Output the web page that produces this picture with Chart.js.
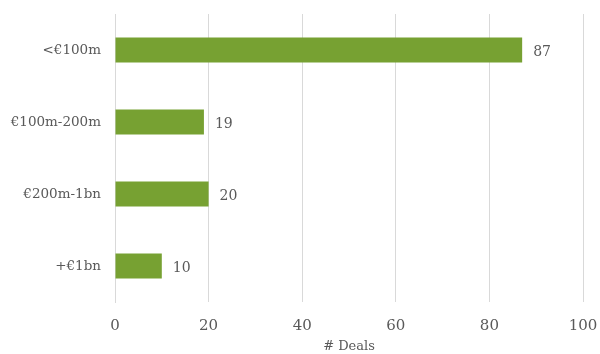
<!DOCTYPE html>
<html>
<head>
<meta charset="utf-8">
<script src="https://cdn.jsdelivr.net/npm/chart.js@4"></script>
<style>
  html, body { margin: 0; padding: 0; background: #fff; }
  #wrap { width: 600px; height: 354px; }
</style>
</head>
<body>
<div id="wrap"><canvas id="chart"></canvas></div>
<script>
// deal size buckets and counts
const categories = ['<€100m', '€100m-200m', '€200m-1bn', '+€1bn']
const deals = [87, 19, 20, 10]
const xTicks = [0, 20, 40, 60, 80, 100]

const FONT = '"DejaVu Serif", "Liberation Serif", serif'
const TEXT = '#595959'

// draws the count to the right of each bar
const barValues = {
  id: 'barValues',
  afterDatasetsDraw(chart) {
    const ctx = chart.ctx
    const meta = chart.getDatasetMeta(0)
    ctx.save()
    ctx.font = `14px ${FONT}`
    ctx.fillStyle = TEXT
    ctx.textAlign = 'left'
    ctx.textBaseline = 'middle'
    meta.data.forEach((bar, i) => {
      ctx.fillText(String(deals[i]), bar.x + 11, bar.y + 2)
    })
    ctx.restore()
  }
}

new Chart(document.getElementById('chart'), {
  type: 'bar',
  data: {
    labels: categories,
    datasets: [{
      data: deals,
      backgroundColor: '#77A132',
      borderWidth: 0,
      barPercentage: 0.348,
      categoryPercentage: 1
    }]
  },
  options: {
    indexAxis: 'y',
    responsive: true,
    maintainAspectRatio: false,
    animation: false,
    layout: { padding: { top: 14, right: 17, left: 0, bottom: 0 } },
    plugins: {
      legend: { display: false },
      tooltip: { enabled: false }
    },
    scales: {
      x: {
        min: 0,
        max: 100,
        afterBuildTicks: axis => { axis.ticks = xTicks.map(v => ({ value: v })) },
        grid: { color: '#d9d9d9', lineWidth: 1, drawTicks: false },
        border: { display: false },
        ticks: { color: TEXT, font: { family: FONT, size: 15 }, padding: 15 },
        title: {
          display: true,
          text: '# Deals',
          color: TEXT,
          font: { family: FONT, size: 13 },
          padding: { top: 2, bottom: 0 }
        },
        afterFit: axis => {
          axis.height = 52
          axis.paddingLeft = 0
          axis.paddingRight = 0
        }
      },
      y: {
        grid: { display: false, drawTicks: false },
        border: { display: true, color: '#d9d9d9', width: 1 },
        ticks: { color: TEXT, font: { family: FONT, size: 13.5 }, padding: 14 },
        afterFit: axis => {
          axis.width = 115
          axis.paddingTop = 0
          axis.paddingBottom = 0
        }
      }
    }
  },
  plugins: [barValues]
})
</script>
</body>
</html>
